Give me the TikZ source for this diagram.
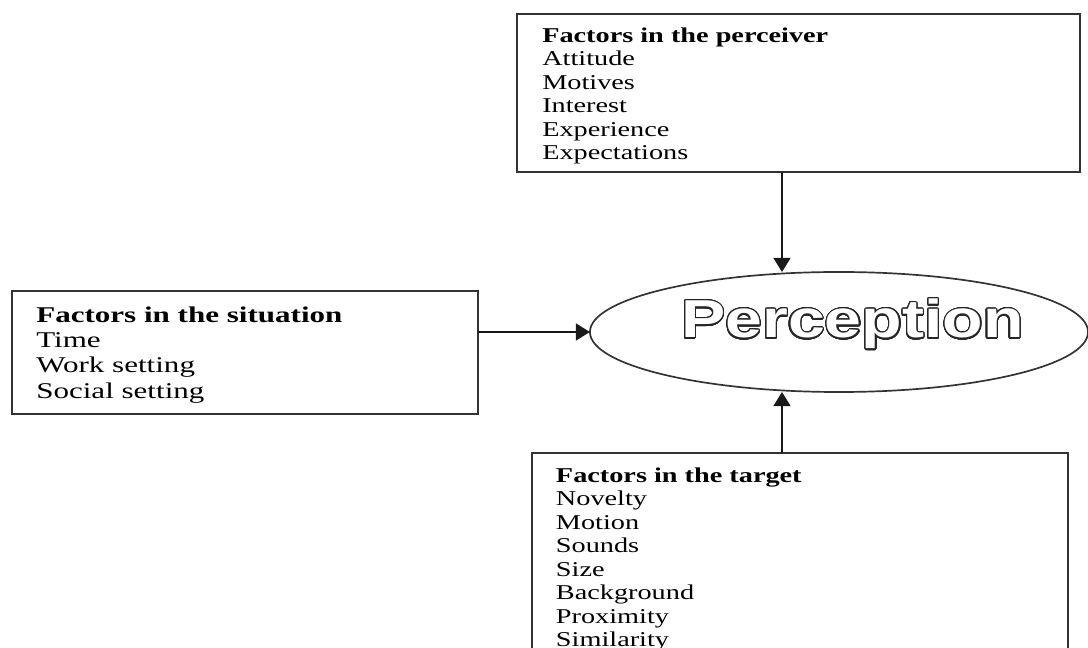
\documentclass[tikz,border=0pt]{standalone}
\usepackage{fontspec}
\usepackage{contour}
\newfontfamily\factorfont[FakeStretch=1.34]{Liberation Serif}
\newfontfamily\situationfont[FakeStretch=1.38]{Liberation Serif}
\newfontfamily\perceptfont[FakeStretch=1.24]{Liberation Sans}
\contourlength{0.9pt}
\contournumber{32}
\usetikzlibrary{arrows.meta,shapes.geometric}

\begin{document}
\begin{tikzpicture}[x=0.025cm, y=-0.025cm,
  frame/.style={draw=black!80, line width=1.2pt, inner sep=0pt, outer sep=0pt, anchor=north west},
  factors/.style={inner sep=0pt, anchor=north west, align=left,
    font={\factorfont\fontsize{15pt}{16.7pt}\selectfont}},
  arr/.style={-{Triangle[length=0.35cm, width=0.42cm]}, line width=1.4pt, black!90}
]
  \useasboundingbox (0,0) rectangle (1088,648);
  \clip (0,0) rectangle (1088,648);

  % boxes
  \node[frame, minimum width=14.075cm, minimum height=3.95cm] (perceiver) at (517,14) {};
  \node[frame, minimum width=11.65cm, minimum height=3.075cm] (situation) at (12,291) {};
  \node[frame, minimum width=13.4cm, minimum height=5.5cm] (target) at (532,453) {};
  \node[ellipse, draw=black!80, line width=1.2pt, inner sep=0pt, outer sep=0pt,
    minimum width=12.45cm, minimum height=3cm] (perception) at (839,332) {};

  \node[factors] (perceivertext) at (542,27.5)
    {\textbf{Factors in the perceiver}\\Attitude\\Motives\\Interest\\Experience\\Expectations};
  \node[factors, font={\situationfont\fontsize{16pt}{17.9pt}\selectfont}] (situationtext) at (36,306.7)
    {\textbf{Factors in the situation}\\Time\\Work setting\\Social setting};
  \node[factors] (targettext) at (555.7,467.4)
    {\textbf{Factors in the target}\\Novelty\\Motion\\Sounds\\Size\\Background\\Proximity\\Similarity};

  \node[anchor=base, inner sep=0pt, font={\perceptfont\bfseries\fontsize{38pt}{40pt}\selectfont}]
    (perceptionlabel) at (852.5,338) {\color{white}\contour{black!85}{Perception}};

  \coordinate (axis) at (782,0);
  \draw[arr] (perceiver.south -| axis) -- (perception.north -| axis);
  \draw[arr] (situation.east |- perception) -- (perception.west);
  \draw[arr] (target.north -| axis) -- (perception.south -| axis);
\end{tikzpicture}
\end{document}
